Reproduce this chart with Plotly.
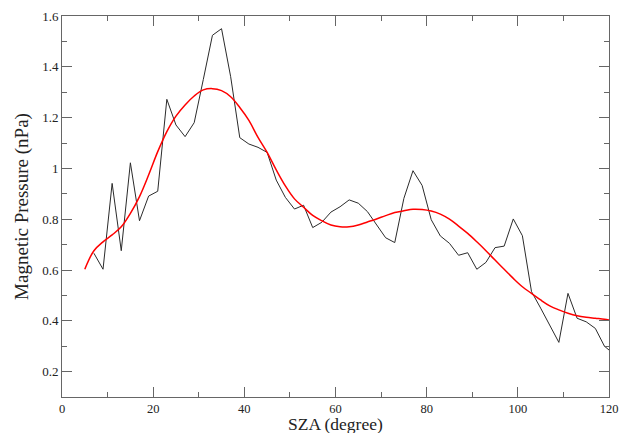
import plotly.graph_objects as go

# Observed magnetic pressure vs solar zenith angle (2-degree bins)
sza_obs = [7, 9, 11, 13, 15, 17, 19, 21, 23, 25, 27, 29, 31, 33, 35, 37, 39, 41, 43,
           45, 47, 49, 51, 53, 55, 57, 59, 61, 63, 65, 67, 69, 71, 73, 75, 77, 79, 81,
           83, 85, 87, 89, 91, 93, 95, 97, 99, 101, 103, 105, 107, 109, 111, 113, 115,
           117, 119, 121]
pb_obs = [0.666, 0.603, 0.941, 0.676, 1.022, 0.794, 0.891, 0.910, 1.272, 1.171, 1.125,
          1.180, 1.350, 1.524, 1.550, 1.361, 1.121, 1.096, 1.083, 1.063, 0.954, 0.886,
          0.840, 0.855, 0.767, 0.788, 0.828, 0.849, 0.876, 0.863, 0.830, 0.777, 0.727,
          0.708, 0.882, 0.991, 0.933, 0.798, 0.734, 0.705, 0.658, 0.668, 0.603, 0.630,
          0.688, 0.694, 0.801, 0.735, 0.515, 0.450, 0.380, 0.315, 0.508, 0.410, 0.396,
          0.370, 0.300, 0.270]

# Smoothed fit
sza_fit = [5, 7, 9, 11, 13, 15, 17, 19, 21, 23, 25, 27, 29, 31, 33, 35, 37, 39, 41, 43,
           45, 47, 49, 51, 53, 55, 57, 59, 61, 63, 65, 67, 69, 71, 73, 75, 77, 79, 81,
           83, 85, 87, 89, 91, 93, 95, 97, 99, 101, 103, 105, 107, 109, 111, 113, 115,
           117, 119, 120]
pb_fit = [0.603, 0.676, 0.711, 0.738, 0.770, 0.823, 0.889, 0.974, 1.066, 1.145, 1.206,
          1.250, 1.285, 1.309, 1.314, 1.306, 1.282, 1.240, 1.189, 1.122, 1.063, 0.994,
          0.931, 0.880, 0.847, 0.815, 0.794, 0.777, 0.770, 0.770, 0.777, 0.789, 0.801,
          0.814, 0.826, 0.833, 0.839, 0.838, 0.832, 0.820, 0.800, 0.773, 0.744, 0.711,
          0.676, 0.639, 0.603, 0.567, 0.534, 0.508, 0.482, 0.459, 0.443, 0.430, 0.420,
          0.414, 0.410, 0.406, 0.403]

font_family = "Liberation Serif"

fig = go.Figure()
fig.add_trace(go.Scatter(x=sza_obs, y=pb_obs, mode="lines",
                         line=dict(color="#2b2b2b", width=1), showlegend=False))
fig.add_trace(go.Scatter(x=sza_fit, y=pb_fit, mode="lines", line_shape="spline",
                         line=dict(color="#ff0000", width=1.5), showlegend=False))

axis_common = dict(
    showline=True, linecolor="#666666", linewidth=1, mirror="ticks",
    ticks="inside", ticklen=10, tickwidth=1, tickcolor="#666666",
    showgrid=False, zeroline=False, automargin=False,
)

fig.update_xaxes(range=[0, 120], tick0=0, dtick=20,
                 tickfont=dict(family=font_family, size=12.5, color="#222222"),
                 minor=dict(ticks="inside", ticklen=5, dtick=10, tickcolor="#666666"),
                 **axis_common)
fig.update_yaxes(range=[0.1, 1.6], tickvals=[0.2, 0.4, 0.6, 0.8, 1.0, 1.2, 1.4, 1.6],
                 ticktext=["0.2", "0.4", "0.6", "0.8", "1", "1.2", "1.4", "1.6"],
                 tickfont=dict(family=font_family, size=13, color="#222222"),
                 minor=dict(ticks="inside", ticklen=5, dtick=0.1, tick0=0.1,
                            tickcolor="#666666"),
                 title=dict(text="Magnetic Pressure (nPa)", standoff=8,
                            font=dict(family=font_family, size=19, color="#222222")),
                 **axis_common)

# x-axis title placed just under the tick labels
fig.add_annotation(text="SZA (degree)", xref="paper", yref="paper", x=0.5, y=0,
                   xanchor="center", yanchor="middle", yshift=-26.5, showarrow=False,
                   font=dict(family=font_family, size=17.5, color="#222222"))

fig.update_layout(
    width=620, height=433,
    margin=dict(l=62, r=11, t=16, b=36),
    plot_bgcolor="white", paper_bgcolor="white",
    font=dict(family=font_family),
)

fig.write_html("out.html")
